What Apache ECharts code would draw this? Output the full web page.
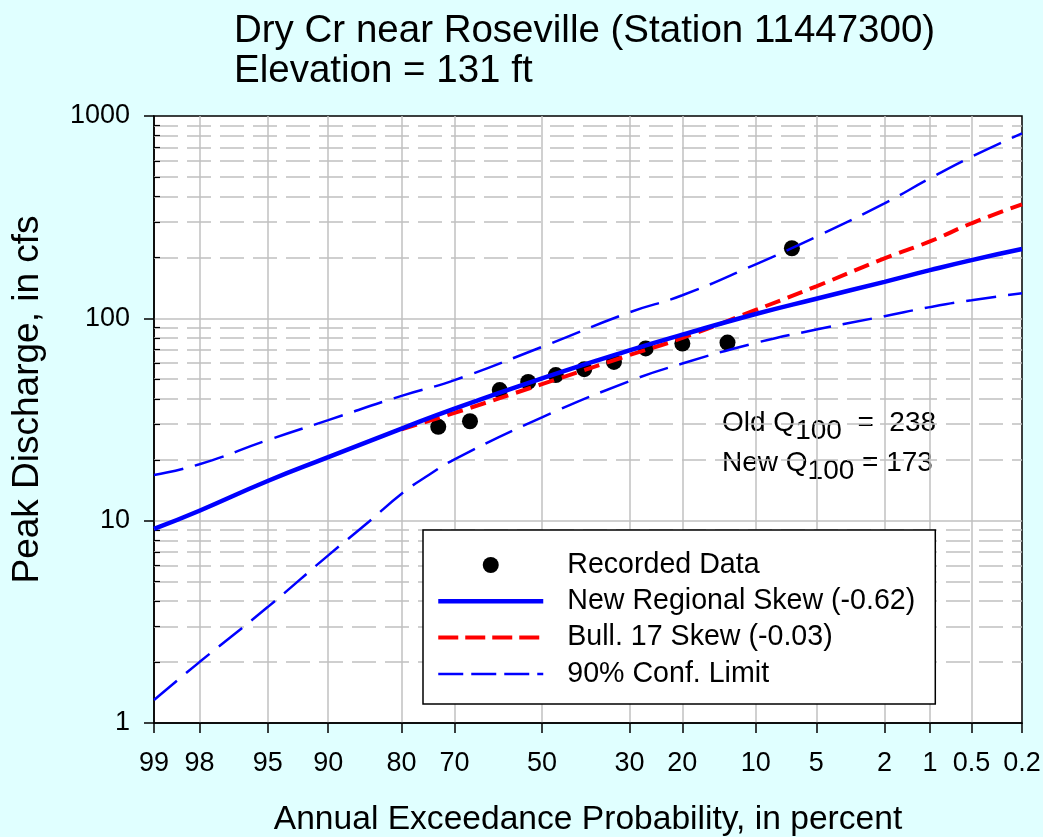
<!DOCTYPE html>
<html lang="en">
  <head>
    <meta charset="UTF-8" />
    <title>Dry Cr near Roseville</title>
    <script src="https://cdn.jsdelivr.net/npm/echarts@6.0.0/dist/echarts.min.js"></script>
    <style>
      html, body { margin: 0; padding: 0; background: #e0ffff; }
    </style>
  </head>
  <body>
    <div id="main" style="width: 1043px; height: 837px"></div>
    <script type="text/javascript">
      // probability axis ticks (annual exceedance, percent)
      const probTicks = [99, 98, 95, 90, 80, 70, 50, 30, 20, 10, 5, 2, 1, 0.5, 0.2];
      // minor log grid values
      const minorQ = [2, 3, 4, 5, 6, 7, 8, 9, 20, 30, 40, 50, 60, 70, 80, 90, 200, 300, 400, 500, 600, 700, 800, 900];

      // recorded peaks (plotting position %, cfs)
      const recordedProb = [73.3, 66.7, 60, 53.3, 46.7, 40, 33.3, 26.7, 20, 13.3, 6.7];
      const recordedQ = [29.1, 31, 44.2, 48.5, 52.4, 56.1, 60.9, 71, 75.1, 75.9, 222];

      // frequency curves, read at the tick probabilities
      const newSkewQ = [9.1, 11.2, 15.7, 20.6, 28.5, 35.8, 50.5, 69.4, 83, 105, 125, 151.5, 173, 194, 220];
      const bullProb = [80, 70, 50, 30, 20, 10, 5, 2, 1, 0.5, 0.2];
      const bullQ = [28.3, 34.1, 47.3, 65.8, 80, 110, 144, 198, 240, 295, 366];
      const upperQ = [16.8, 19.0, 25.0, 31.4, 41.4, 49.5, 72.3, 107, 130, 185, 253, 370, 492, 629, 821];
      const lowerProb = [99, 98, 95, 90, 85, 80, 75, 70, 50, 30, 20, 10, 5, 2, 1, 0.5, 0.2];
      const lowerQ = [1.3, 2.0, 3.74, 6.74, 9.9, 13.6, 16.9, 20.1, 32.4, 48.9, 59.8, 75.6, 88, 102.5, 113.6, 123, 133];

      const font = "'Liberation Sans', Arial, sans-serif";

      // inverse standard normal (Acklam)
      function normInv(p) {
        const a = [-39.69683028665376, 220.9460984245205, -275.9285104469687, 138.3577518672690, -30.66479806614716, 2.506628277459239];
        const b = [-54.47609879822406, 161.5858368580409, -155.6989798598866, 66.80131188771972, -13.28068155288572];
        const c = [-0.007784894002430293, -0.3223964580411365, -2.400758277161838, -2.549732539343734, 4.374664141464968, 2.938163982698783];
        const d = [0.007784695709041462, 0.3224671290700398, 2.445134137142996, 3.754408661907416];
        const pl = 0.02425;
        let q, r;
        if (p < pl) {
          q = Math.sqrt(-2 * Math.log(p));
          return (((((c[0] * q + c[1]) * q + c[2]) * q + c[3]) * q + c[4]) * q + c[5]) /
            ((((d[0] * q + d[1]) * q + d[2]) * q + d[3]) * q + 1);
        }
        if (p > 1 - pl) {
          q = Math.sqrt(-2 * Math.log(1 - p));
          return -(((((c[0] * q + c[1]) * q + c[2]) * q + c[3]) * q + c[4]) * q + c[5]) /
            ((((d[0] * q + d[1]) * q + d[2]) * q + d[3]) * q + 1);
        }
        q = p - 0.5;
        r = q * q;
        return (((((a[0] * r + a[1]) * r + a[2]) * r + a[3]) * r + a[4]) * r + a[5]) * q /
          (((((b[0] * r + b[1]) * r + b[2]) * r + b[3]) * r + b[4]) * r + 1);
      }
      // exceedance percent -> position on probability axis
      const pz = (pct) => normInv(1 - pct / 100);

      const tickZ = probTicks.map(pz);
      const zMin = pz(99);
      const zip = (ps, qs) => ps.map((p, i) => [pz(p), qs[i]]);

      function tickLabel(v) {
        for (let i = 0; i < tickZ.length; i++) {
          if (Math.abs(tickZ[i] - v) < 1e-6) return String(probTicks[i]);
        }
        return "";
      }

      // small inward ticks for the minor log values
      const minorTicks = minorQ.map((v) => [{ coord: [zMin, v] }, { coord: [zMin + 0.036, v] }]);

      // Q100 note with subscript
      const noteRich = {
        n: { fontSize: 28, lineHeight: 32, verticalAlign: "top", fontFamily: font },
        s: { fontSize: 28, lineHeight: 32, verticalAlign: "top", padding: [8, 0, 0, 0], fontFamily: font },
      };
      function note(text, top) {
        return {
          type: "text", left: 722, top: top,
          style: { text: text, fill: "#000", font: "28px " + font, rich: noteRich },
        };
      }

      const myChart = echarts.init(document.getElementById("main"));
      const options = {
        animation: false,
        backgroundColor: "#e0ffff",
        textStyle: { fontFamily: font, color: "#000" },
        title: {
          text: "Dry Cr near Roseville (Station 11447300)\nElevation = 131 ft",
          left: 229,
          top: 6,
          textStyle: { fontSize: 38.5, fontWeight: "normal", color: "#000", lineHeight: 40, fontFamily: font },
        },
        grid: {
          left: 154, right: 21, top: 116, bottom: 114,
          show: true, backgroundColor: "#fff", borderColor: "#000", borderWidth: 1.5,
          outerBoundsMode: "none",
        },
        legend: {
          data: [
            { name: "Recorded Data" },
            { name: "New Regional Skew (-0.62)", itemStyle: { opacity: 0 }, lineStyle: { width: 4.5 } },
            { name: "Bull. 17 Skew (-0.03)", itemStyle: { opacity: 0 }, lineStyle: { width: 4, type: [20, 7] } },
            { name: "90% Conf. Limit", itemStyle: { opacity: 0 }, lineStyle: { width: 2.5, type: [25, 8] } },
          ],
          orient: "vertical",
          left: 423, top: 530,
          backgroundColor: "#fff", borderColor: "#000", borderWidth: 1.5, borderRadius: 0,
          padding: [19, 20, 14, 13],
          itemWidth: 105, itemHeight: 16, itemGap: 4.3,
          selectedMode: false,
          textStyle: { fontSize: 28.6, color: "#000", lineHeight: 32, padding: [0, 0, 0, 19], fontFamily: font },
        },
        xAxis: {
          type: "value",
          min: zMin, max: pz(0.2),
          name: "Annual Exceedance Probability, in percent",
          nameLocation: "middle", nameGap: 80,
          nameTextStyle: { fontSize: 33.6, color: "#000", fontFamily: font },
          axisLine: { onZero: false, lineStyle: { color: "#000", width: 1.5 } },
          axisTick: { customValues: tickZ, length: 10, lineStyle: { color: "#000", width: 1.5 } },
          axisLabel: { customValues: tickZ, formatter: tickLabel, fontSize: 27, color: "#000", margin: 27, fontFamily: font },
          splitLine: { show: true, showMinLine: false, showMaxLine: false, lineStyle: { color: "#c0c0c0", width: 1.5 } },
        },
        yAxis: {
          type: "log", logBase: 10, min: 1, max: 1000,
          name: "Peak Discharge, in cfs",
          nameLocation: "middle", nameGap: 108,
          nameTextStyle: { fontSize: 37, color: "#000", fontFamily: font, padding: [0, 0, 0, 40] },
          axisLine: { show: true, onZero: false, lineStyle: { color: "#000", width: 1.5 } },
          axisTick: { show: true, length: 10, lineStyle: { color: "#000", width: 1.5 } },
          axisLabel: { fontSize: 27, color: "#000", margin: 24, fontFamily: font, formatter: (v) => String(v) },
          splitLine: { show: true, showMinLine: false, showMaxLine: false, lineStyle: { color: "#c0c0c0", width: 1.5 } },
        },
        series: [
          {
            name: "minor grid",
            type: "line",
            data: [],
            silent: true,
            markLine: {
              silent: true, z: 1, symbol: ["none", "none"],
              label: { show: false },
              lineStyle: { color: "#c0c0c0", width: 1.5, type: [24, 9] },
              emphasis: { disabled: true },
              data: minorQ.map((v) => ({ yAxis: v })),
            },
          },
          {
            name: "minor ticks",
            type: "line",
            data: [],
            silent: true,
            markLine: {
              silent: true, z: 3, symbol: ["none", "none"],
              label: { show: false },
              lineStyle: { color: "#000", width: 1.2, type: "solid" },
              emphasis: { disabled: true },
              data: minorTicks,
            },
          },
          {
            name: "90% Conf. Limit",
            type: "line", smooth: true, symbol: "none",
            data: zip(probTicks, upperQ),
            lineStyle: { color: "#0000ff", width: 2.5, type: [30, 12] },
            itemStyle: { color: "#0000ff" },
          },
          {
            name: "90% Conf. Limit",
            type: "line", smooth: true, symbol: "none",
            data: zip(lowerProb, lowerQ),
            lineStyle: { color: "#0000ff", width: 2.5, type: [30, 12] },
            itemStyle: { color: "#0000ff" },
          },
          {
            name: "Bull. 17 Skew (-0.03)",
            type: "line", smooth: true, symbol: "none",
            data: zip(bullProb, bullQ),
            lineStyle: { color: "#ff0000", width: 4, type: [16, 8] },
            itemStyle: { color: "#ff0000" },
          },
          {
            name: "New Regional Skew (-0.62)",
            type: "line", smooth: true, symbol: "none",
            data: zip(probTicks, newSkewQ),
            lineStyle: { color: "#0000ff", width: 4.5 },
            itemStyle: { color: "#0000ff" },
          },
          {
            name: "Recorded Data",
            type: "scatter",
            symbol: "circle", symbolSize: 16,
            data: zip(recordedProb, recordedQ),
            itemStyle: { color: "#000", opacity: 1 },
          },
        ],
        graphic: [
          note("{n|Old Q}{s|100}{n|  =  238}", 409),
          note("{n|New Q}{s|100}{n| = 173}", 449),
        ],
      };
      myChart.setOption(options);
    </script>
  </body>
</html>
